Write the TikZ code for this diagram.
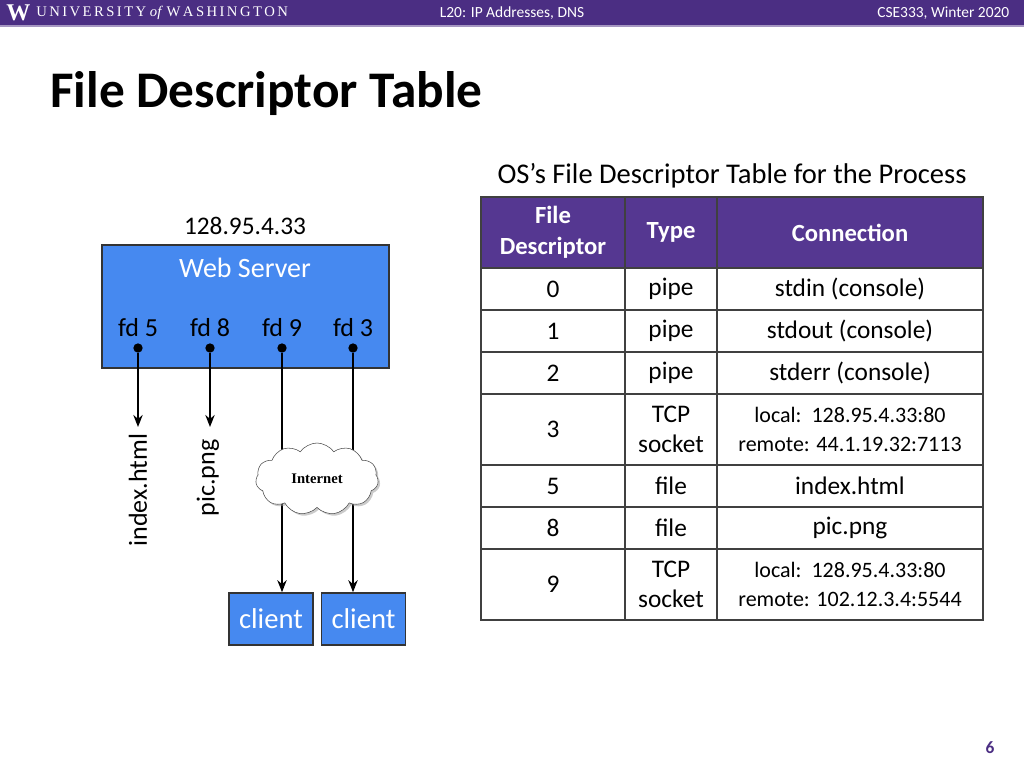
\documentclass[tikz,border=0pt]{standalone}
\usepackage{fontspec}
\setmainfont{Carlito}
\newfontfamily\serifx{Liberation Serif}
\usetikzlibrary{shapes.symbols,shadows,arrows.meta}
\definecolor{uwpurple}{RGB}{75,46,131}
\definecolor{hdr}{RGB}{85,55,145}
\definecolor{srvblue}{RGB}{70,137,240}
\tikzset{
  cell/.style={draw=black!75,line width=0.9pt,minimum height=0pt},
  tt/.style={font=\fontsize{19}{23}\selectfont,align=center},
  ht/.style={font=\fontsize{18.5}{23}\selectfont\bfseries,align=center,text=white},
  st/.style={font=\fontsize{16.5}{22}\selectfont,align=center},
  arr/.style={line width=1.8pt,-{Stealth[length=9pt,width=7pt]}},
  dot/.style={circle,fill=black,inner sep=0pt,minimum size=7pt},
  bluebox/.style={draw=black!80,line width=1.2pt,fill=srvblue},
  clientbox/.style={bluebox,minimum width=63pt,minimum height=39pt,inner sep=0,text=white,font=\fontsize{21.5}{24}\selectfont},
}
\begin{document}
\begin{tikzpicture}[x=0.75pt,y=-0.75pt]
\useasboundingbox (0,0) rectangle (1024,768);
\fill[white] (0,0) rectangle (1024,768);
% header bar
\fill[uwpurple] (0,0) rectangle (1024,25);
\fill[uwpurple!50] (0,25) rectangle (1024,27);
\node[anchor=west,text=white,font=\serifx\bfseries\fontsize{18}{18}\selectfont,inner sep=0] (w) at (6,13) {W};
\node[anchor=west,text=white!85,font=\serifx\fontsize{11}{12}\selectfont,inner sep=0] (uw) at (36,13) {U\,N\,I\,V\,E\,R\,S\,I\,T\,Y \textit{of} W\,A\,S\,H\,I\,N\,G\,T\,O\,N};
\node[text=white,font=\fontsize{11.6}{13}\selectfont] (lec) at (512,13) {L20: IP Addresses, DNS};
\node[anchor=east,text=white,font=\fontsize{11.6}{13}\selectfont] (crs) at (1014,13) {CSE333, Winter 2020};
% title
\node[anchor=west,font=\fontsize{38.5}{44}\selectfont\bfseries,inner sep=0] (title) at (50,94) {File Descriptor Table};
% table
\node[font=\fontsize{21.4}{24}\selectfont] (cap) at (732,176) {OS’s File Descriptor Table for the Process};
\fill[hdr] (481,197) rectangle (983,268);
\foreach \ya/\yb in {197/268,268/310,310/352,352/394,394/465,465/507,507/549,549/620}{
  \draw[cell] (481,\ya) rectangle (625,\yb);
  \draw[cell] (625,\ya) rectangle (717,\yb);
  \draw[cell] (717,\ya) rectangle (983,\yb);
}
\node[ht] (h1) at (553,232.5) {File\\Descriptor};
\node[ht] (h2) at (671,232.5) {Type};
\node[ht] (h3) at (850,232.5) {Connection};
\node[tt] (r0a) at (553,289) {0}; \node[tt] (r0b) at (671,289) {pipe}; \node[tt] (r0c) at (850,289) {stdin (console)};
\node[tt] (r1a) at (553,331) {1}; \node[tt] (r1b) at (671,331) {pipe}; \node[tt] (r1c) at (850,331) {stdout (console)};
\node[tt] (r2a) at (553,373) {2}; \node[tt] (r2b) at (671,373) {pipe}; \node[tt] (r2c) at (850,373) {stderr (console)};
\node[tt] (r3a) at (553,429.5) {3}; \node[tt] (r3b) at (671,429.5) {TCP\\socket}; \node[st] (r3c) at (850,429.5) {local:\ \ 128.95.4.33:80\\remote: 44.1.19.32:7113};
\node[tt] (r5a) at (553,486) {5}; \node[tt] (r5b) at (671,486) {file}; \node[tt] (r5c) at (850,486) {index.html};
\node[tt] (r8a) at (553,528) {8}; \node[tt] (r8b) at (671,528) {file}; \node[tt] (r8c) at (850,528) {pic.png};
\node[tt] (r9a) at (553,584.5) {9}; \node[tt] (r9b) at (671,584.5) {TCP\\socket}; \node[st] (r9c) at (850,584.5) {local:\ \ 128.95.4.33:80\\remote: 102.12.3.4:5544};
% web server
\node[tt] (ip) at (245,226) {128.95.4.33};
\draw[bluebox] (102,245) rectangle (389,368);
\node[tt,text=white,font=\fontsize{21}{24}\selectfont] (ws) at (245,268) {Web Server};
\node[tt,font=\fontsize{19.5}{23}\selectfont] (fd5) at (138,328) {fd 5};
\node[tt,font=\fontsize{19.5}{23}\selectfont] (fd8) at (210,328) {fd 8};
\node[tt,font=\fontsize{19.5}{23}\selectfont] (fd9) at (282,328) {fd 9};
\node[tt,font=\fontsize{19.5}{23}\selectfont] (fd3) at (353,328) {fd 3};
\node[dot] (d5) at (138,348) {};
\node[dot] (d8) at (210,348) {};
\node[dot] (d9) at (282,348) {};
\node[dot] (d3) at (353,348) {};
\coordinate (e5) at (138,427);
\coordinate (e8) at (210,427);
\node[clientbox] (c1) at (271,619) {client};
\node[clientbox] (c2) at (363.5,619) {client};
\draw[arr] (d5) -- (e5);
\draw[arr] (d8) -- (e8);
\draw[arr] (d9) -- (d9 |- c1.north);
\draw[arr] (d3) -- (d3 |- c2.north);
\node[cloud,cloud puffs=11,cloud puff arc=110,aspect=1.7,draw=black!70,fill=white,minimum width=92pt,minimum height=54pt,
  drop shadow={shadow xshift=1.5pt,shadow yshift=-1.5pt,fill=black!40},font=\serifx\bfseries\fontsize{11}{12}\selectfont] (net) at (317,479) {Internet};
\node[tt,rotate=90,font=\fontsize{19.5}{22}\selectfont] (ih) at (138,490) {index.html};
\node[tt,rotate=90,font=\fontsize{19.5}{22}\selectfont] (pp) at (208,478) {pic.png};
% page number
\node[font=\fontsize{13}{14}\selectfont\bfseries,text=uwpurple] (pg) at (990,748) {6};
\end{tikzpicture}
\end{document}
